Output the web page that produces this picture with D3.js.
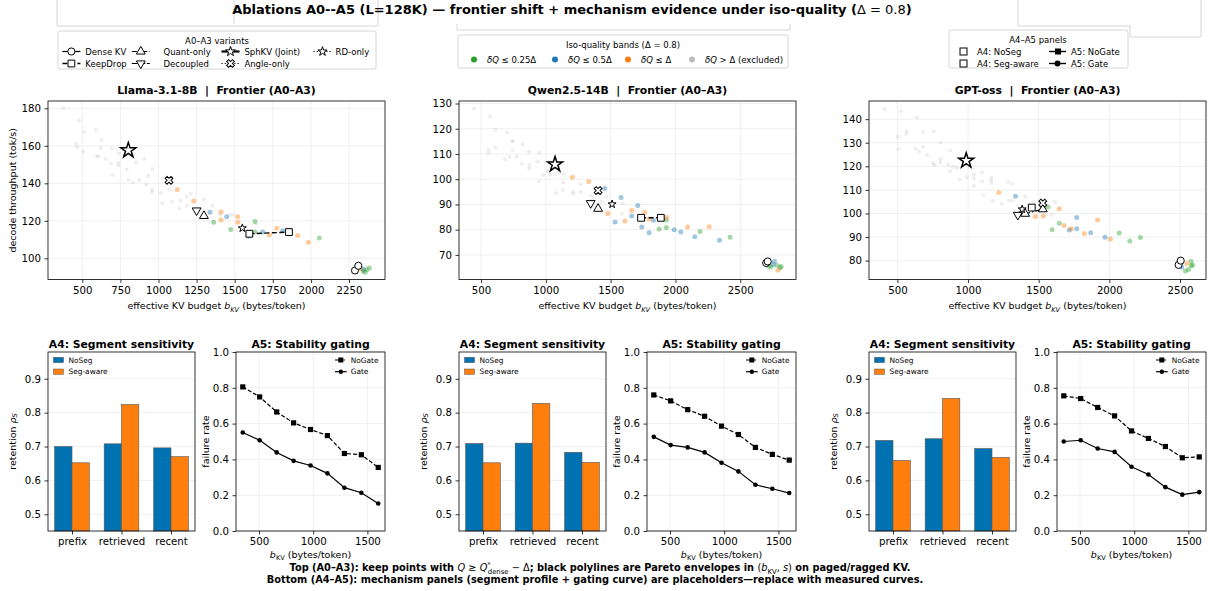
<!DOCTYPE html>
<html>
<head>
<meta charset="utf-8">
<script src="https://cdn.jsdelivr.net/npm/d3@7"></script>
<style>
  body { margin: 0; background: #fff; }
  svg { font-family: "DejaVu Sans", sans-serif; }
</style>
</head>
<body>
<div id="fig"></div>
<script>
// ---------------- data ----------------
const VARIANT_NAMES = ["Dense KV", "KeepDrop", "Quant-only", "Decoupled", "SphKV (Joint)", "Angle-only", "RD-only"];
const BAND_LABELS = ["0.25", "0.5", "1", "excluded"];

// Llama-3.1-8B frontier points [bytes/token, tok/s]
const llamaExcluded = [[375,180.0],[478,173.7],[459,161.3],[467,159.4],[511,167.4],[507,156.8],[587,168.5],[594,154.5],[605,154.5],[627,163.1],[622,158.7],[653,153.1],[688,150.6],[699,144.6],[693,158.6],[738,156.0],[736,150.9],[736,149.5],[791,147.3],[802,141.9],[831,140.5],[852,151.2],[874,141.9],[918,139.2],[933,144.1],[907,153.1],[962,147.7],[959,136.6],[957,135.2],[1016,134.8],[1025,129.4],[1025,142.7],[1075,136.6],[1087,130.3],[1137,126.7],[1145,130.7],[1185,133.0],[1211,134.4],[1185,128.0],[1299,131.2],[1353,128.1],[1403,123.1],[1469,123.1],[1491,123.1],[1640,118.3]];
const llamaBand25 = [[1362,119.2],[1474,115.4],[1633,119.7],[1633,114.0],[2055,110.8],[2343,93.2],[2366,93.9],[2383,94.8],[2355,92.6]];
const llamaBand50 = [[1338,124.6],[1447,122.2],[1590,111.8],[1684,114.1],[1815,114.7],[2343,94.3]];
const llamaBandD = [[1123,136.7],[1231,130.6],[1410,124.7],[1410,120.4],[1520,122.2],[1520,119.2],[1776,116.1],[1727,112.4],[1913,112.2],[1983,108.6],[2325,94.5]];
const llamaVariants = [
  [[2289,93.5],[2311,96.0]],   // Dense KV
  [[1596,113.1],[1856,114.0]], // KeepDrop
  [[1298,122.6]],              // Quant-only
  [[1250,125.5]],              // Decoupled
  [[802,157.6]],               // SphKV (Joint)
  [[1069,141.6]],              // Angle-only
  [[1550,116.1]]               // RD-only
];

// Qwen2.5-14B
const qwenExcluded = [[446,128.0],[570,125.0],[610,119.5],[700,118.5],[742,115.1],[557,111.6],[557,110.3],[611,112.6],[744,114.9],[822,113.9],[685,107.9],[719,108.9],[775,108.9],[814,106.1],[873,105.7],[873,104.3],[744,111.6],[870,110.9],[950,110.5],[935,107.0],[948,99.1],[981,101.7],[1012,103.4],[1033,101.8],[1105,102.6],[1136,102.1],[1138,98.7],[1079,94.5],[1130,95.7],[1207,94.9],[1213,94.2],[1269,98.0],[1269,94.9],[1354,93.4],[1357,91.6],[1431,91.2],[1470,93.2],[1593,90.5],[1586,86.3]];
const qwenBand25 = [[1930,83.8],[1874,80.3],[1930,80.9],[2190,79.3],[2422,77.0],[2718,65.5],[2736,65.3],[2782,65.9],[2808,64.9],[2815,65.4]];
const qwenBand50 = [[1454,96.3],[1580,92.8],[1534,83.0],[1709,89.6],[1663,85.4],[1830,83.7],[1740,81.1],[1797,78.8],[1990,80.0],[2041,79.1],[2149,77.2],[2340,75.8],[2764,67.5],[2753,66.2]];
const qwenBandD = [[1205,100.8],[1331,99.1],[1478,86.4],[1611,83.4],[1663,87.6],[1763,86.8],[1797,84.2],[1930,84.9],[2093,81.1],[2260,81.2],[2790,63.9]];
const qwenVariants = [
  [[2700,66.8],[2712,67.4]],
  [[1735,84.7],[1887,84.7]],
  [[1403,88.3]],
  [[1346,90.5]],
  [[1071,105.9]],
  [[1403,95.5]],
  [[1511,90.1]]
];

// GPT-oss
const gptExcluded = [[410,144.2],[523,143.4],[504,132.5],[507,127.2],[563,135.0],[563,133.7],[638,140.7],[681,134.4],[757,134.9],[804,130.0],[629,127.5],[653,126.3],[681,128.2],[712,124.8],[752,121.4],[761,120.7],[804,123.1],[804,121.7],[874,126.8],[860,120.7],[893,119.7],[921,119.3],[874,117.9],[940,114.4],[992,115.4],[1041,116.5],[1041,114.9],[1041,111.8],[1100,117.5],[1100,113.7],[1164,115.1],[1164,114.1],[1164,113.0],[1110,107.7],[1176,105.4],[1237,104.1],[1289,105.5],[1317,105.5],[1284,113.4],[1312,112.5],[1404,107.3],[1467,105.1],[1590,99.4],[1616,104.9],[1517,103.7]];
const gptBand25 = [[1566,102.7],[1646,95.9],[1595,93.1],[2070,91.7],[2145,88.3],[2220,89.8],[2578,79.7],[2590,78.2],[2560,76.2],[2538,75.6],[2580,77.8]];
const gptBand50 = [[1336,107.3],[1769,98.3],[1769,93.5],[1717,93.0],[1868,91.8],[1969,89.9],[2512,77.2]];
const gptBandD = [[1218,108.9],[1646,102.0],[1477,98.7],[1533,98.9],[1679,94.9],[1731,93.5],[1917,97.2],[1823,91.5],[2007,89.2],[2548,78.8]];
const gptVariants = [
  [[2490,78.2],[2505,80.0]],
  [[1451,102.5]],
  [[1404,99.9],[1529,101.8]],
  [[1352,99.4]],
  [[987,122.4]],
  [[1529,104.4]],
  [[1383,101.8]]
];

// A4: segment retention
const segments = ["prefix", "retrieved", "recent"];
const llamaNoSeg = [0.700, 0.708, 0.696];
const llamaSegAware = [0.652, 0.824, 0.670];
const qwenNoSeg = [0.709, 0.710, 0.683];
const qwenSegAware = [0.652, 0.827, 0.653];
const gptNoSeg = [0.718, 0.723, 0.694];
const gptSegAware = [0.659, 0.842, 0.668];

// A5: failure rate vs budget
const budgets = [350, 506, 663, 819, 975, 1131, 1288, 1444, 1600];
const llamaNoGate = [0.805, 0.749, 0.665, 0.604, 0.567, 0.533, 0.433, 0.426, 0.355];
const llamaGate = [0.550, 0.507, 0.439, 0.392, 0.366, 0.322, 0.242, 0.214, 0.154];
const qwenNoGate = [0.760, 0.727, 0.678, 0.641, 0.586, 0.539, 0.467, 0.428, 0.396];
const qwenGate = [0.526, 0.480, 0.467, 0.439, 0.381, 0.333, 0.258, 0.236, 0.212];
const gptNoGate = [0.755, 0.740, 0.690, 0.643, 0.559, 0.517, 0.472, 0.409, 0.414];
const gptGate = [0.500, 0.507, 0.461, 0.442, 0.359, 0.316, 0.245, 0.203, 0.217];

// ---------------- style ----------------
const W = 1210, H = 591;
const BAND_COLORS = ["#2ca02c", "#1f77b4", "#ff7f0e", "#bbbbbb"];
const BAR_COLORS = ["#0072b2", "#ff7f0e"];
const TICK_FS = 10.2, LABEL_FS = 9.5, TITLE_FS = 10.8, LEG_FS = 8.5;

const VSTYLE = {
  "Dense KV":      {sym: d3.symbolCircle,   size: 40, rot: 0,   dash: null,        lw: 1.2},
  "KeepDrop":      {sym: d3.symbolSquare,   size: 46, rot: 0,   dash: "5,2.5",     lw: 1.4},
  "Quant-only":    {sym: d3.symbolTriangle, size: 34, rot: 0,   dash: "5,2,1.5,2", lw: 1.2},
  "Decoupled":     {sym: d3.symbolTriangle, size: 34, rot: 180, dash: "6,1.5",     lw: 1.2},
  "SphKV (Joint)": {sym: d3.symbolStar,     size: 70, rot: 0,   dash: null,        lw: 2.2, mw: 1.5},
  "Angle-only":    {sym: d3.symbolCross,    size: 38, rot: 45,  dash: "1.2,2",     lw: 1.2},
  "RD-only":       {sym: d3.symbolStar,     size: 20, rot: 0,   dash: "1.2,2",     lw: 1.2}
};

const svg = d3.select("#fig").append("svg").attr("width", W).attr("height", H);

// write text with italic / sub / sup parts
function rich(sel, parts, fs) {
  let shift = 0;
  parts.forEach(function(p) {
    const str = p[0], o = p[1] || {};
    const target = o.sub ? fs * 0.28 : (o.sup ? -fs * 0.38 : 0);
    const t = sel.append("tspan").text(str).attr("dy", target - shift);
    shift = target;
    if (o.sub || o.sup) t.attr("font-size", fs * 0.7);
    if (o.it) t.attr("font-style", "italic");
    if (o.w) t.attr("font-weight", o.w);
    if (o.dx) t.attr("dx", o.dx);
  });
  return sel;
}

function styleAxis(sel) {
  sel.select(".domain").remove();
  sel.selectAll(".tick line").attr("stroke", "#000").attr("stroke-width", 0.8);
  sel.selectAll(".tick text").attr("font-size", TICK_FS).attr("fill", "#000")
    .attr("font-family", "DejaVu Sans");
}

function frame(g, x0, y0, x1, y1) {
  g.append("rect").attr("x", x0).attr("y", y0).attr("width", x1 - x0).attr("height", y1 - y0)
    .attr("fill", "none").attr("stroke", "#000").attr("stroke-width", 0.8);
}

function gridLines(g, scale, ticks, horiz, a, b) {
  g.append("g").selectAll("line").data(ticks).join("line")
    .attr("x1", d => horiz ? a : scale(d)).attr("x2", d => horiz ? b : scale(d))
    .attr("y1", d => horiz ? scale(d) : a).attr("y2", d => horiz ? scale(d) : b)
    .attr("stroke", "#ebebeb").attr("stroke-width", 0.8);
}

function symbolPath(st, size) {
  return d3.symbol().type(st.sym).size(size || st.size)();
}

// ---------------- top: frontier panels ----------------
const TOP = {y0: 101, y1: 279.5, w: 337};
const LEFTS = [48, 459, 869];

function frontierPanel(left, title, xDom, yDom, xTicks, yTicks, bands, variants, yLabel) {
  const x = d3.scaleLinear().domain(xDom).range([left, left + TOP.w]);
  const y = d3.scaleLinear().domain(yDom).range([TOP.y1, TOP.y0]);
  const g = svg.append("g");

  gridLines(g, x, xTicks, false, TOP.y0, TOP.y1);
  gridLines(g, y, yTicks, true, left, left + TOP.w);

  // excluded first (gray), then iso-quality bands
  [3, 0, 1, 2].forEach(function(bi) {
    g.append("g").selectAll("circle").data(bands[bi]).join("circle")
      .attr("cx", d => x(d[0])).attr("cy", d => y(d[1]))
      .attr("r", bi === 3 ? 2.0 : 2.5)
      .attr("fill", BAND_COLORS[bi])
      .attr("fill-opacity", bi === 3 ? 0.25 : 0.42);
  });

  // Pareto envelopes + markers
  const line = d3.line().x(d => x(d[0])).y(d => y(d[1]));
  VARIANT_NAMES.forEach(function(name, i) {
    const st = VSTYLE[name], pts = variants[i];
    if (pts.length > 1) {
      g.append("path").attr("d", line(pts)).attr("fill", "none")
        .attr("stroke", "#000").attr("stroke-width", st.lw)
        .attr("stroke-dasharray", st.dash);
    }
    g.append("g").selectAll("path").data(pts).join("path")
      .attr("d", symbolPath(st))
      .attr("transform", d => `translate(${x(d[0])},${y(d[1])}) rotate(${st.rot})`)
      .attr("fill", "#fff").attr("stroke", "#000").attr("stroke-width", st.mw || 1);
  });

  g.append("g").attr("transform", `translate(0,${TOP.y1})`)
    .call(d3.axisBottom(x).tickValues(xTicks).tickFormat(d3.format("d")).tickSize(3.5).tickPadding(3.5))
    .call(styleAxis);
  g.append("g").attr("transform", `translate(${left},0)`)
    .call(d3.axisLeft(y).tickValues(yTicks).tickFormat(d3.format("d")).tickSize(3.5).tickPadding(3.5))
    .call(styleAxis);
  frame(g, left, TOP.y0, left + TOP.w, TOP.y1);

  g.append("text").attr("x", left + TOP.w / 2).attr("y", 94)
    .attr("text-anchor", "middle").attr("font-size", TITLE_FS).attr("font-weight", "bold")
    .text(title);

  const xl = g.append("text").attr("x", left + TOP.w / 2).attr("y", 309)
    .attr("text-anchor", "middle").attr("font-size", LABEL_FS);
  rich(xl, [["effective KV budget "], ["b", {it: true}], ["KV", {sub: true, it: true}], [" (bytes/token)"]], LABEL_FS);

  if (yLabel) {
    g.append("text").attr("transform", `translate(12,${(TOP.y0 + TOP.y1) / 2}) rotate(-90)`)
      .attr("text-anchor", "middle").attr("font-size", LABEL_FS).attr("dominant-baseline", "central")
      .text(yLabel);
  }
}

const SEP = "\u00a0\u00a0|\u00a0\u00a0";
frontierPanel(LEFTS[0], "Llama-3.1-8B" + SEP + "Frontier (A0\u2013A3)", [275, 2486], [88.7, 183.9],
  [500, 750, 1000, 1250, 1500, 1750, 2000, 2250], [100, 120, 140, 160, 180],
  [llamaBand25, llamaBand50, llamaBandD, llamaExcluded], llamaVariants, "decode throughput (tok/s)");
frontierPanel(LEFTS[1], "Qwen2.5-14B" + SEP + "Frontier (A0\u2013A3)", [330, 2930], [60.25, 131],
  [500, 1000, 1500, 2000, 2500], [70, 80, 90, 100, 110, 120, 130],
  [qwenBand25, qwenBand50, qwenBandD, qwenExcluded], qwenVariants, null);
frontierPanel(LEFTS[2], "GPT-oss" + SEP + "Frontier (A0\u2013A3)", [299, 2684], [72, 147.7],
  [500, 1000, 1500, 2000, 2500], [80, 90, 100, 110, 120, 130, 140],
  [gptBand25, gptBand50, gptBandD, gptExcluded], gptVariants, null);

// ---------------- bottom: A4 / A5 panels ----------------
const BOT = {y0: 352, y1: 531, w: 147, gap: 188};

function mechanismPanels(left, noSeg, segAware, noGate, gate) {
  const g = svg.append("g");

  // A4 bars
  const x4 = d3.scaleLinear().domain([-0.485, 2.485]).range([left, left + BOT.w]);
  const y4 = d3.scaleLinear().domain([0.4507, 0.979]).range([BOT.y1, BOT.y0]);
  const y4Ticks = [0.5, 0.6, 0.7, 0.8, 0.9];
  gridLines(g, y4, y4Ticks, true, left, left + BOT.w);
  const bw = 0.35;
  [noSeg, segAware].forEach(function(vals, s) {
    g.append("g").selectAll("rect").data(vals).join("rect")
      .attr("x", (d, i) => x4(i + (s === 0 ? -bw : 0)))
      .attr("width", x4(bw) - x4(0))
      .attr("y", d => y4(d))
      .attr("height", d => BOT.y1 - y4(d))
      .attr("fill", BAR_COLORS[s]).attr("stroke", "#555").attr("stroke-width", 0.6);
  });
  g.append("g").attr("transform", `translate(0,${BOT.y1})`)
    .call(d3.axisBottom(x4).tickValues([0, 1, 2]).tickFormat(i => segments[i]).tickSize(3.5).tickPadding(3.5))
    .call(styleAxis);
  g.append("g").attr("transform", `translate(${left},0)`)
    .call(d3.axisLeft(y4).tickValues(y4Ticks).tickFormat(d3.format(".1f")).tickSize(3.5).tickPadding(3.5))
    .call(styleAxis);
  frame(g, left, BOT.y0, left + BOT.w, BOT.y1);
  g.append("text").attr("x", left + BOT.w / 2).attr("y", 348).attr("text-anchor", "middle")
    .attr("font-size", TITLE_FS).attr("font-weight", "bold").text("A4: Segment sensitivity");
  const yl4 = g.append("text").attr("transform", `translate(${left - 36},${(BOT.y0 + BOT.y1) / 2}) rotate(-90)`)
    .attr("text-anchor", "middle").attr("font-size", LABEL_FS).attr("dominant-baseline", "central");
  rich(yl4, [["retention "], ["\u03c1", {it: true}], ["S", {sub: true, it: true}]], LABEL_FS);

  // A4 legend
  ["NoSeg", "Seg-aware"].forEach(function(lab, i) {
    const ly = 360 + i * 11.7;
    g.append("rect").attr("x", left + 5.5).attr("y", ly - 2.7).attr("width", 10).attr("height", 5.4)
      .attr("fill", BAR_COLORS[i]).attr("stroke", "#555").attr("stroke-width", 0.5);
    g.append("text").attr("x", left + 20.5).attr("y", ly).attr("dominant-baseline", "central")
      .attr("font-size", 7.4).text(lab);
  });

  // A5 lines
  const l5 = left + BOT.gap;
  const x5 = d3.scaleLinear().domain([287.5, 1662.5]).range([l5, l5 + 149]);
  const y5 = d3.scaleLinear().domain([0, 1]).range([BOT.y1, BOT.y0]);
  const x5Ticks = [500, 1000, 1500], y5Ticks = [0, 0.2, 0.4, 0.6, 0.8, 1.0];
  gridLines(g, x5, x5Ticks, false, BOT.y0, BOT.y1);
  gridLines(g, y5, y5Ticks, true, l5, l5 + 149);
  const ln = d3.line().x((d, i) => x5(budgets[i])).y(d => y5(d));
  g.append("path").attr("d", ln(noGate)).attr("fill", "none").attr("stroke", "#000")
    .attr("stroke-width", 1.2).attr("stroke-dasharray", "4,2");
  g.append("g").selectAll("rect").data(noGate).join("rect")
    .attr("x", (d, i) => x5(budgets[i]) - 2.6).attr("y", d => y5(d) - 2.6)
    .attr("width", 5.2).attr("height", 5.2).attr("fill", "#000");
  g.append("path").attr("d", ln(gate)).attr("fill", "none").attr("stroke", "#000").attr("stroke-width", 1.2);
  g.append("g").selectAll("circle").data(gate).join("circle")
    .attr("cx", (d, i) => x5(budgets[i])).attr("cy", d => y5(d)).attr("r", 2.3).attr("fill", "#000");
  g.append("g").attr("transform", `translate(0,${BOT.y1})`)
    .call(d3.axisBottom(x5).tickValues(x5Ticks).tickFormat(d3.format("d")).tickSize(3.5).tickPadding(3.5))
    .call(styleAxis);
  g.append("g").attr("transform", `translate(${l5},0)`)
    .call(d3.axisLeft(y5).tickValues(y5Ticks).tickFormat(d3.format(".1f")).tickSize(3.5).tickPadding(3.5))
    .call(styleAxis);
  frame(g, l5, BOT.y0, l5 + 149, BOT.y1);
  g.append("text").attr("x", l5 + 74.5).attr("y", 348).attr("text-anchor", "middle")
    .attr("font-size", TITLE_FS).attr("font-weight", "bold").text("A5: Stability gating");
  g.append("text").attr("transform", `translate(${l5 - 31},${(BOT.y0 + BOT.y1) / 2}) rotate(-90)`)
    .attr("text-anchor", "middle").attr("font-size", LABEL_FS).attr("dominant-baseline", "central")
    .text("failure rate");
  const xl5 = g.append("text").attr("x", l5 + 74.5).attr("y", 557.5).attr("text-anchor", "middle")
    .attr("font-size", LABEL_FS);
  rich(xl5, [["b", {it: true}], ["KV", {sub: true}], [" (bytes/token)"]], LABEL_FS);

  // A5 legend
  ["NoGate", "Gate"].forEach(function(lab, i) {
    const ly = 360 + i * 11.7, hx = l5 + 99;
    g.append("line").attr("x1", hx).attr("x2", hx + 11.7).attr("y1", ly).attr("y2", ly)
      .attr("stroke", "#000").attr("stroke-width", 1.2).attr("stroke-dasharray", i === 0 ? "4,2" : null);
    if (i === 0) g.append("rect").attr("x", hx + 3.3).attr("y", ly - 2.5).attr("width", 5).attr("height", 5).attr("fill", "#000");
    else g.append("circle").attr("cx", hx + 5.85).attr("cy", ly).attr("r", 2.2).attr("fill", "#000");
    g.append("text").attr("x", hx + 15.7).attr("y", ly).attr("dominant-baseline", "central")
      .attr("font-size", 7.4).text(lab);
  });
}

mechanismPanels(LEFTS[0], llamaNoSeg, llamaSegAware, llamaNoGate, llamaGate);
mechanismPanels(LEFTS[1], qwenNoSeg, qwenSegAware, qwenNoGate, qwenGate);
mechanismPanels(LEFTS[2], gptNoSeg, gptSegAware, gptNoGate, gptGate);

// ---------------- header: stray frames, title, legends ----------------
const hdr = svg.append("g").attr("fill", "none").attr("stroke", "#cccccc").attr("stroke-width", 0.8);
hdr.append("path").attr("d", "M57,0V26H378V0");
hdr.append("path").attr("d", "M234,0V24");
hdr.append("path").attr("d", "M457,24V30H790V24");
hdr.append("path").attr("d", "M1018,0V26H1130V37H1201V0");

const TITLE_SIZE = 13;
const title = svg.append("text").attr("x", 572).attr("y", 13.5).attr("text-anchor", "middle")
  .attr("font-size", TITLE_SIZE).attr("font-weight", "bold");
rich(title, [["Ablations A0--A5 (L=128K) \u2014 frontier shift + mechanism evidence under iso-quality ("],
  ["\u0394 = 0.8", {w: "normal"}], [")"]], TITLE_SIZE);

function legendBox(x0, y0, x1, y1) {
  svg.append("rect").attr("x", x0).attr("y", y0).attr("width", x1 - x0).attr("height", y1 - y0)
    .attr("rx", 2).attr("fill", "#fff").attr("stroke", "#cccccc").attr("stroke-width", 0.8);
}

// A0-A3 variants legend (4 columns, filled column-wise)
legendBox(58, 31, 376, 69);
svg.append("text").attr("x", 217).attr("y", 40.5).attr("text-anchor", "middle")
  .attr("dominant-baseline", "central").attr("font-size", LEG_FS).text("A0\u2013A3 variants");
const colHandle = [71.4, 140.8, 230.5, 322.5];
const colText = [85.3, 163.5, 244.4, 335.5];
VARIANT_NAMES.forEach(function(name, i) {
  const col = Math.floor(i / 2), row = i % 2;
  const cx = colHandle[col], cy = 51.5 + row * 12;
  const st = VSTYLE[name];
  svg.append("line").attr("x1", cx - 9).attr("x2", cx + 9).attr("y1", cy).attr("y2", cy)
    .attr("stroke", "#000").attr("stroke-width", st.lw).attr("stroke-dasharray", st.dash);
  svg.append("path").attr("d", symbolPath(st, name === "SphKV (Joint)" ? 30 : (name === "RD-only" ? 26 : st.size)))
    .attr("transform", `translate(${cx},${cy}) rotate(${st.rot})`)
    .attr("fill", "#fff").attr("stroke", "#000").attr("stroke-width", 1);
  svg.append("text").attr("x", colText[col]).attr("y", cy).attr("dominant-baseline", "central")
    .attr("font-size", LEG_FS).text(name);
});

// iso-quality legend
legendBox(458, 35, 788, 68);
const isoT = svg.append("text").attr("x", 623).attr("y", 45).attr("text-anchor", "middle")
  .attr("dominant-baseline", "central").attr("font-size", LEG_FS);
rich(isoT, [["Iso-quality bands ("], ["\u0394 = 0.8"], [")"]], LEG_FS);
const isoDot = [474, 555, 628, 692], isoText = [487, 568, 641, 705];
BAND_LABELS.forEach(function(lab, i) {
  svg.append("circle").attr("cx", isoDot[i]).attr("cy", 59.5).attr("r", 3).attr("fill", BAND_COLORS[i]);
  const t = svg.append("text").attr("x", isoText[i]).attr("y", 59.5).attr("dominant-baseline", "central")
    .attr("font-size", LEG_FS);
  if (lab === "excluded") rich(t, [["\u03b4Q", {it: true}], [" > \u0394 (excluded)"]], LEG_FS);
  else if (lab === "1") rich(t, [["\u03b4Q", {it: true}], [" \u2264 \u0394"]], LEG_FS);
  else rich(t, [["\u03b4Q", {it: true}], [" \u2264 " + lab + "\u0394"]], LEG_FS);
});

// A4-A5 legend
legendBox(949, 30, 1128, 68);
svg.append("text").attr("x", 1038).attr("y", 40).attr("text-anchor", "middle")
  .attr("dominant-baseline", "central").attr("font-size", LEG_FS).text("A4\u2013A5 panels");
["A4: NoSeg", "A4: Seg-aware"].forEach(function(lab, i) {
  const cy = 51.5 + i * 12;
  svg.append("rect").attr("x", 960).attr("y", cy - 3.5).attr("width", 7).attr("height", 7)
    .attr("fill", "#fff").attr("stroke", "#000").attr("stroke-width", 1);
  svg.append("text").attr("x", 977).attr("y", cy).attr("dominant-baseline", "central")
    .attr("font-size", LEG_FS).text(lab);
});
["A5: NoGate", "A5: Gate"].forEach(function(lab, i) {
  const cy = 51.5 + i * 12;
  svg.append("line").attr("x1", 1049).attr("x2", 1066).attr("y1", cy).attr("y2", cy)
    .attr("stroke", "#000").attr("stroke-width", 1.4);
  if (i === 0) svg.append("rect").attr("x", 1055).attr("y", cy - 3).attr("width", 6).attr("height", 6).attr("fill", "#000");
  else svg.append("circle").attr("cx", 1057.5).attr("cy", cy).attr("r", 3).attr("fill", "#000");
  svg.append("text").attr("x", 1071).attr("y", cy).attr("dominant-baseline", "central")
    .attr("font-size", LEG_FS).text(lab);
});

// ---------------- footer ----------------
const FOOT_FS = 9.8;
const f1 = svg.append("text").attr("x", 600).attr("y", 571).attr("text-anchor", "middle")
  .attr("font-size", FOOT_FS).attr("font-weight", "bold");
rich(f1, [["Top (A0\u2013A3): keep points with "], ["Q", {it: true, w: "normal"}], [" \u2265 ", {w: "normal"}],
  ["Q", {it: true, w: "normal"}], ["*", {sup: true, w: "normal"}], ["dense", {sub: true, w: "normal", dx: -3}],
  [" \u2212 \u0394", {w: "normal"}], ["; black polylines are Pareto envelopes in "], ["(", {w: "normal"}],
  ["b", {it: true, w: "normal"}], ["KV", {sub: true, w: "normal"}], [", ", {w: "normal"}], ["s", {it: true, w: "normal"}],
  [")", {w: "normal"}], [" on paged/ragged KV."]], FOOT_FS);
svg.append("text").attr("x", 595).attr("y", 583).attr("text-anchor", "middle")
  .attr("font-size", FOOT_FS).attr("font-weight", "bold")
  .text("Bottom (A4\u2013A5): mechanism panels (segment profile + gating curve) are placeholders\u2014replace with measured curves.");
</script>
</body>
</html>
